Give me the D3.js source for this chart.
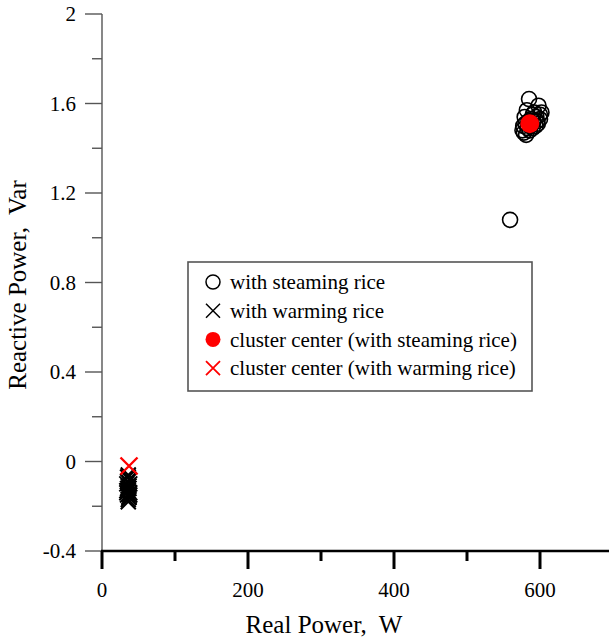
<!DOCTYPE html>
<html>
<head>
<meta charset="utf-8">
<script src="https://cdn.jsdelivr.net/npm/d3@7"></script>
<style>
  html, body { margin: 0; padding: 0; background: #fff; }
</style>
</head>
<body>
<svg id="chart" width="609" height="640"></svg>
<script>
// Real power (W) / reactive power (Var) samples, steaming rice
const steamP = [585, 598, 602, 600, 596, 590, 582, 579, 577, 578, 581, 586, 590, 594, 597,
                588, 584, 580, 592, 595, 583, 600, 576, 587, 591, 559];
const steamQ = [1.62, 1.59, 1.56, 1.53, 1.52, 1.55, 1.57, 1.54, 1.50, 1.47, 1.46, 1.48, 1.49, 1.50, 1.51,
                1.53, 1.52, 1.51, 1.56, 1.54, 1.49, 1.55, 1.48, 1.50, 1.52, 1.08];
// Samples while warming rice
const warmP = [36, 35, 37, 36, 34, 38, 36, 35, 37, 36, 34, 38, 35, 37, 36, 36, 35, 37, 34, 38, 36, 37];
const warmQ = [-0.06, -0.07, -0.08, -0.09, -0.10, -0.10, -0.11, -0.12, -0.12, -0.13, -0.14, -0.14,
               -0.15, -0.16, -0.17, -0.18, -0.09, -0.11, -0.13, -0.15, -0.07, -0.16];
// Cluster centres
const centerSteam = [586, 1.51];
const centerWarm = [37, -0.02];

const xTicks = [0, 200, 400, 600];
const xMinor = [100, 300, 500];
const yTicks = [-0.4, 0, 0.4, 0.8, 1.2, 1.6, 2];
const yMinor = [-0.2, 0.2, 0.6, 1.0, 1.4, 1.8];

const legendLabels = ["with steaming rice", "with warming rice",
                      "cluster center (with steaming rice)", "cluster center (with warming rice)"];

const FONT = "'Liberation Serif', 'Times New Roman', Times, serif";
const INK = "#000";
const svg = d3.select("#chart");
const x = d3.scaleLinear().domain([0, 700]).range([102, 613]);
const y = d3.scaleLinear().domain([-0.4, 2]).range([551, 14]);

// Y axis: thin grey spine with outward ticks
const yAx = svg.append("g").attr("transform", `translate(${x(0)},0)`);
yAx.append("line").attr("x1", 0).attr("x2", 0).attr("y1", y(2)).attr("y2", y(-0.4))
  .attr("stroke", "#555").attr("stroke-width", 1.4);
yAx.selectAll("line.maj").data(yTicks).join("line").attr("class", "maj")
  .attr("x1", -17).attr("x2", 0).attr("y1", d => y(d)).attr("y2", d => y(d))
  .attr("stroke", "#555").attr("stroke-width", 1.4);
yAx.selectAll("line.min").data(yMinor).join("line").attr("class", "min")
  .attr("x1", -10).attr("x2", 0).attr("y1", d => y(d)).attr("y2", d => y(d))
  .attr("stroke", "#555").attr("stroke-width", 1.4);
yAx.selectAll("text").data(yTicks).join("text")
  .attr("x", -26).attr("y", d => y(d)).attr("dy", "0.35em")
  .attr("text-anchor", "end").attr("font-size", 21).attr("font-family", FONT).attr("fill", INK)
  .text(d => String(d));

// X axis: heavy black spine with downward ticks
const xAx = svg.append("g").attr("transform", `translate(0,${y(-0.4)})`);
xAx.append("line").attr("x1", x(0) - 1).attr("x2", 609).attr("y1", 0).attr("y2", 0)
  .attr("stroke", "#000").attr("stroke-width", 2.6);
xAx.selectAll("line.maj").data(xTicks).join("line").attr("class", "maj")
  .attr("x1", d => x(d)).attr("x2", d => x(d)).attr("y1", 0).attr("y2", 18)
  .attr("stroke", "#000").attr("stroke-width", 3);
xAx.selectAll("line.min").data(xMinor).join("line").attr("class", "min")
  .attr("x1", d => x(d)).attr("x2", d => x(d)).attr("y1", 0).attr("y2", 10)
  .attr("stroke", "#000").attr("stroke-width", 3);
xAx.selectAll("text").data(xTicks).join("text")
  .attr("x", d => x(d)).attr("y", 46)
  .attr("text-anchor", "middle").attr("font-size", 21).attr("font-family", FONT).attr("fill", INK)
  .text(d => String(d));

// Axis titles
svg.append("text").attr("x", 324).attr("y", 633).attr("text-anchor", "middle")
  .attr("font-size", 25).attr("font-family", FONT).attr("fill", INK).style("white-space", "pre")
  .text("Real Power,  W");
svg.append("text").attr("transform", "translate(26,285) rotate(-90)")
  .attr("text-anchor", "middle").attr("font-size", 25).attr("font-family", FONT).attr("fill", INK)
  .style("white-space", "pre")
  .text("Reactive Power,  Var");

// Cross marker path of half-size s
const cross = s => `M${-s},${-s}L${s},${s}M${-s},${s}L${s},${-s}`;

const steam = steamP.map((p, i) => [p, steamQ[i]]);
const warm = warmP.map((p, i) => [p, warmQ[i]]);

svg.append("g").selectAll("circle").data(steam).join("circle")
  .attr("cx", d => x(d[0])).attr("cy", d => y(d[1])).attr("r", 7.5)
  .attr("fill", "none").attr("stroke", "#000").attr("stroke-width", 1.6);

svg.append("g").selectAll("path").data(warm).join("path")
  .attr("transform", d => `translate(${x(d[0])},${y(d[1])})`)
  .attr("d", cross(7.5)).attr("stroke", "#000").attr("stroke-width", 2).attr("fill", "none");

svg.append("circle").attr("cx", x(centerSteam[0])).attr("cy", y(centerSteam[1])).attr("r", 9.5)
  .attr("fill", "#ff0000");
svg.append("path").attr("transform", `translate(${x(centerWarm[0])},${y(centerWarm[1])})`)
  .attr("d", cross(8.5)).attr("stroke", "#ff0000").attr("stroke-width", 2.4).attr("fill", "none");

// Legend
const lg = svg.append("g");
lg.append("rect").attr("x", 188).attr("y", 262).attr("width", 344).attr("height", 129)
  .attr("fill", "#fff").attr("stroke", "#555").attr("stroke-width", 1.6);
const rowY = i => 282 + i * 28.7;
lg.append("circle").attr("cx", 213).attr("cy", rowY(0)).attr("r", 7)
  .attr("fill", "none").attr("stroke", "#000").attr("stroke-width", 1.5);
lg.append("path").attr("transform", `translate(213,${rowY(1)})`).attr("d", cross(7))
  .attr("stroke", "#000").attr("stroke-width", 1.5);
lg.append("circle").attr("cx", 213).attr("cy", rowY(2)).attr("r", 7.5).attr("fill", "#ff0000");
lg.append("path").attr("transform", `translate(213,${rowY(3)})`).attr("d", cross(7))
  .attr("stroke", "#ff0000").attr("stroke-width", 1.8);
lg.selectAll("text").data(legendLabels).join("text")
  .attr("x", 230).attr("y", (d, i) => rowY(i)).attr("dy", "0.35em")
  .attr("font-size", 21).attr("font-family", FONT).attr("fill", INK).text(d => d);
</script>
</body>
</html>
